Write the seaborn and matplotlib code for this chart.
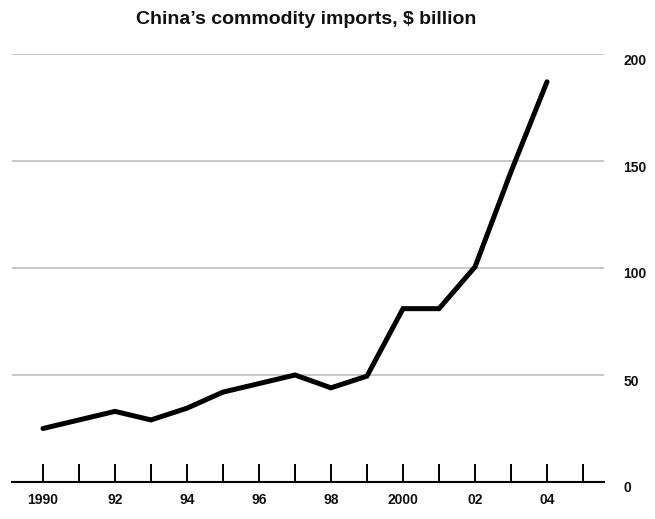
import numpy as np
import pandas as pd
import matplotlib
matplotlib.use("Agg")
import matplotlib.pyplot as plt
import matplotlib.transforms as mtransforms
import seaborn as sns

# data
years = [1990, 1991, 1992, 1993, 1994, 1995, 1996, 1997,
         1998, 1999, 2000, 2001, 2002, 2003, 2004]
imports_bn = [25, 29, 33, 29, 34.5, 42, 46, 50,
              44, 49.5, 81, 81, 100.5, 145, 187]
tick_years = list(range(1990, 2006))
tick_labels = ["1990", "", "92", "", "94", "", "96", "", "98", "",
               "2000", "", "02", "", "04", ""]
y_ticks = [0, 50, 100, 150, 200]
title = "China\u2019s commodity imports, $ billion"

df = pd.DataFrame({"year": years, "imports": imports_bn})

sns.set_style("white")
plt.rcParams["font.family"] = ["Liberation Sans", "DejaVu Sans"]
plt.rcParams["font.weight"] = "bold"

W, H = 655, 519
fig = plt.figure(figsize=(W / 100, H / 100), dpi=100)
ax = fig.add_axes([12 / W, 1 - 482 / H, (604 - 12) / W, (482 - 54) / H])

sns.lineplot(data=df, x="year", y="imports", color="black", lw=3.6,
             ax=ax, clip_on=False, solid_joinstyle="miter")

ax.set_xlim(1990 - 31 / 36, 2005 + 21 / 36)
ax.set_ylim(0, 200)
ax.set_xlabel("")
ax.set_ylabel("")

# x axis: tick every year, upward, labels on even years
ax.set_xticks(tick_years)
ax.set_xticklabels(tick_labels)
ax.tick_params(axis="x", bottom=True, direction="in", length=13, width=1.4,
               color="black", pad=8, labelsize=10, labelcolor="#111111")

# y axis on the right, no tick marks
ax.yaxis.tick_right()
ax.set_yticks(y_ticks)
ax.set_yticklabels([str(v) for v in y_ticks])
ax.tick_params(axis="y", length=0, pad=14, labelsize=10, labelcolor="#111111")
for lab in ax.get_yticklabels():
    lab.set_horizontalalignment("left")
    lab.set_transform(lab.get_transform() +
                      mtransforms.ScaledTranslation(0, -5 / 100, fig.dpi_scale_trans))

ax.yaxis.grid(True, color="#c4c4c4", lw=1.3)
ax.set_axisbelow(True)
for s in ["top", "left", "right"]:
    ax.spines[s].set_visible(False)
ax.spines["bottom"].set_color("black")
ax.spines["bottom"].set_linewidth(1.5)
ax.spines["bottom"].set_zorder(3)

fig.text(306 / W, 1 - 20 / H, title, ha="center", va="center",
         fontsize=14, fontweight="bold", color="#111111")

fig.savefig("out.png", dpi=100, facecolor="white")
